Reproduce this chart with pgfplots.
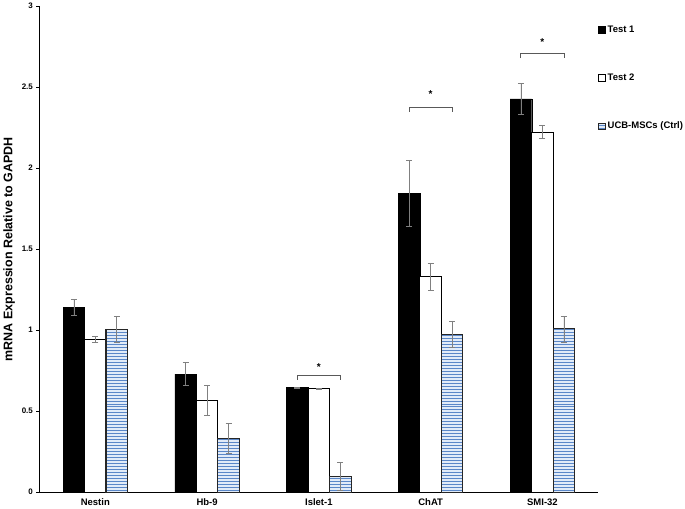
\documentclass[border=0pt]{standalone}
\usepackage{fontspec}
\setmainfont{Liberation Sans}
\usepackage{pgfplots}
\pgfplotsset{compat=1.18}
\usepackage{pgfplotstable}
\usetikzlibrary{patterns}
\definecolor{hatchblue}{RGB}{90,135,200}
\definecolor{hatchbg}{RGB}{225,235,248}
\pgfplotstableread{
x y e
0 1.140 0.050
1 0.729 0.070
2 0.645 0.004
3 1.845 0.205
4 2.428 0.093
}\testone
\pgfplotstableread{
x y e
0 0.943 0.020
1 0.567 0.090
2 0.641 0.003
3 1.330 0.085
4 2.222 0.040
}\testtwo
\pgfplotstableread{
x y e
0 1.006 0.081
1 0.331 0.093
2 0.097 0.086
3 0.975 0.082
4 1.008 0.080
}\ctrl
\begin{document}
\begin{tikzpicture}
\begin{axis}[
  scale only axis,
  width=560pt, height=487pt,
  ybar, bar width=21.5pt,
  xmin=-0.5, xmax=4.5, ymin=0, ymax=3,
  axis lines*=left,
  axis line style={black, line width=0.9pt, -},
  xtick={0,1,2,3,4},
  xticklabels={Nestin,Hb-9,Islet-1,ChAT,SMI-32},
  x tick style={draw=none},
  xticklabel style={font=\fontsize{9.5}{11}\selectfont\bfseries},
  ytick={0,0.5,...,3},
  y tick style={black, line width=0.6pt},
  tick align=outside, major tick length=3pt,
  yticklabel style={font=\fontsize{8}{10}\selectfont\bfseries},
  /pgf/number format/assume math mode=true,
  ylabel={mRNA Expression Relative to GAPDH},
  ylabel style={font=\fontsize{12.5}{14}\selectfont\bfseries},
  legend style={at={(1.0,0.963)}, anchor=north west, draw=none, fill=none,
    font=\fontsize{9.5}{11}\selectfont\bfseries, row sep=36pt,
    inner sep=0pt, outer sep=0pt},
  legend cell align=left,
  legend image code/.code={\draw[#1, line width=0.8pt] (0pt,-3.3pt) rectangle (6.6pt,3.3pt);},
  error bars/error bar style={gray, line width=0.6pt},
  error bars/error mark options={gray, rotate=90, mark size=3pt, line width=0.6pt},
]
\addplot[fill=black, draw=black, bar shift=-21.5pt,
  error bars/.cd, y dir=both, y explicit]
  table[x=x, y=y, y error=e] {\testone};
\addlegendentry{Test 1}
\addplot[fill=white, draw=black, line width=1.1pt, bar shift=0pt,
  error bars/.cd, y dir=both, y explicit]
  table[x=x, y=y, y error=e] {\testtwo};
\addlegendentry{Test 2}
\addplot[fill=hatchbg, draw=black!85, line width=1.1pt, bar shift=21.5pt,
  postaction={pattern=horizontal lines, pattern color=hatchblue},
  error bars/.cd, y dir=both, y explicit]
  table[x=x, y=y, y error=e] {\ctrl};
\addlegendentry{UCB-MSCs (Ctrl)}
% significance brackets
\draw[black!65, line width=0.8pt] (axis cs:1.807,0.693) -- (axis cs:1.807,0.723) -- (axis cs:2.193,0.723) -- (axis cs:2.193,0.693);
\node[font=\fontsize{10}{12}\selectfont\bfseries] at (axis cs:2.0,0.775) {*};
\draw[black!65, line width=0.8pt] (axis cs:2.807,2.348) -- (axis cs:2.807,2.378) -- (axis cs:3.193,2.378) -- (axis cs:3.193,2.348);
\node[font=\fontsize{10}{12}\selectfont\bfseries] at (axis cs:3.0,2.455) {*};
\draw[black!65, line width=0.8pt] (axis cs:3.807,2.679) -- (axis cs:3.807,2.709) -- (axis cs:4.193,2.709) -- (axis cs:4.193,2.679);
\node[font=\fontsize{10}{12}\selectfont\bfseries] at (axis cs:4.0,2.78) {*};
\end{axis}
\end{tikzpicture}
\end{document}
